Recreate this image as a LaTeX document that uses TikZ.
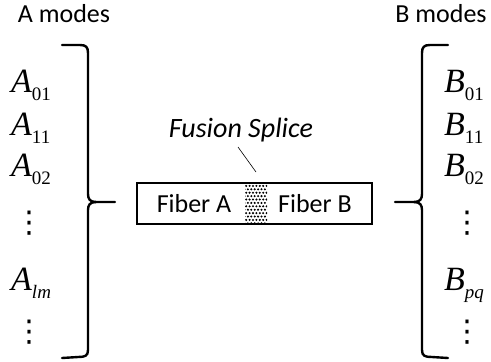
\documentclass[tikz,border=0pt]{standalone}
\usepackage{fontspec}
\newfontfamily\sansf{Carlito}
\newfontfamily\seriff{Liberation Serif}
\newfontfamily\symf{DejaVu Sans}
% mode symbol: italic letter with a lowered subscript
\newcommand{\modelabel}[2]{{\seriff\fontsize{34}{34}\selectfont\itshape #1}\raisebox{-8pt}{\seriff\fontsize{19}{19}\selectfont #2}}
\tikzset{
  brace/.style={line width=2.4pt, line cap=round, line join=round},
  caption/.style={font=\sansf\fontsize{26}{26}\selectfont, inner sep=0pt},
  modetxt/.style={anchor=base west, inner sep=0pt},
  dotstxt/.style={inner sep=0pt, font=\symf\fontsize{30}{30}\selectfont},
  fiberbox/.style={draw, line width=2.4pt},
}
\begin{document}
\begin{tikzpicture}[x=1pt,y=-1pt]
\useasboundingbox (0,0) rectangle (491,362);

% headings
\node[caption] (ha) at (64,14) {A modes};
\node[caption] (hb) at (441,14) {B modes};

% A modes
\node[modetxt] (a01) at (11,92) {\modelabel{A}{01}};
\node[modetxt] (a11) at (11,135) {\modelabel{A}{11}};
\node[modetxt] (a02) at (11,176) {\modelabel{A}{02}};
\node[dotstxt] (ad1) at (29,223) {⋮};
\node[modetxt] (alm) at (11,290) {\modelabel{A}{\itshape lm}};
\node[dotstxt] (ad2) at (29,332) {⋮};

% B modes
\node[modetxt] (b01) at (444,92) {\modelabel{B}{01}};
\node[modetxt] (b11) at (444,135) {\modelabel{B}{11}};
\node[modetxt] (b02) at (444,176) {\modelabel{B}{02}};
\node[dotstxt] (bd1) at (467,223) {⋮};
\node[modetxt] (bpq) at (444,290) {\modelabel{B}{\itshape pq}};
\node[dotstxt] (bd2) at (467,332) {⋮};

% left brace
\draw[brace] (62,45) -- (80,45) .. controls (86,45) and (88,47) .. (88,53)
  -- (88,194) .. controls (88,199) and (90,202) .. (96,202) -- (115,202);
\draw[brace] (96,202) .. controls (90,202) and (88,205) .. (88,210)
  -- (88,350) .. controls (88,356) and (85,357) .. (78,357) -- (62,358);

% right brace
\draw[brace] (448,45) -- (430,45) .. controls (424,45) and (422,47) .. (422,53)
  -- (422,194) .. controls (422,199) and (420,202) .. (414,202) -- (395,202);
\draw[brace] (414,202) .. controls (420,202) and (422,205) .. (422,210)
  -- (422,350) .. controls (422,356) and (425,357) .. (432,357) -- (448,358);

% stippled fused region between the two fibres
\begin{scope}
  \clip (245,183) rectangle (267,224);
  \foreach \i in {0,...,7} {
    \foreach \j in {0,...,12} {
      \pgfmathsetmacro{\xx}{244.5+\i*3.4+mod(\j,2)*1.7}
      \fill (\xx,{182.5+\j*3.4}) circle (1.15pt);
    }
  }
\end{scope}
\node[fiberbox, minimum width=235pt, minimum height=41pt, inner sep=0pt] (fiber) at (254.5,203.5) {};
\node[caption] (fa) at (194,204) {Fiber A};
\node[caption] (fb) at (315,204) {Fiber B};
\coordinate (splice) at (256,172);

% splice label and pointer
\node[caption, font=\sansf\itshape\fontsize{28}{28}\selectfont] (lbl) at (241,130) {Fusion Splice};
\draw[line width=0.6pt] (238,147) -- (splice);
\end{tikzpicture}
\end{document}
